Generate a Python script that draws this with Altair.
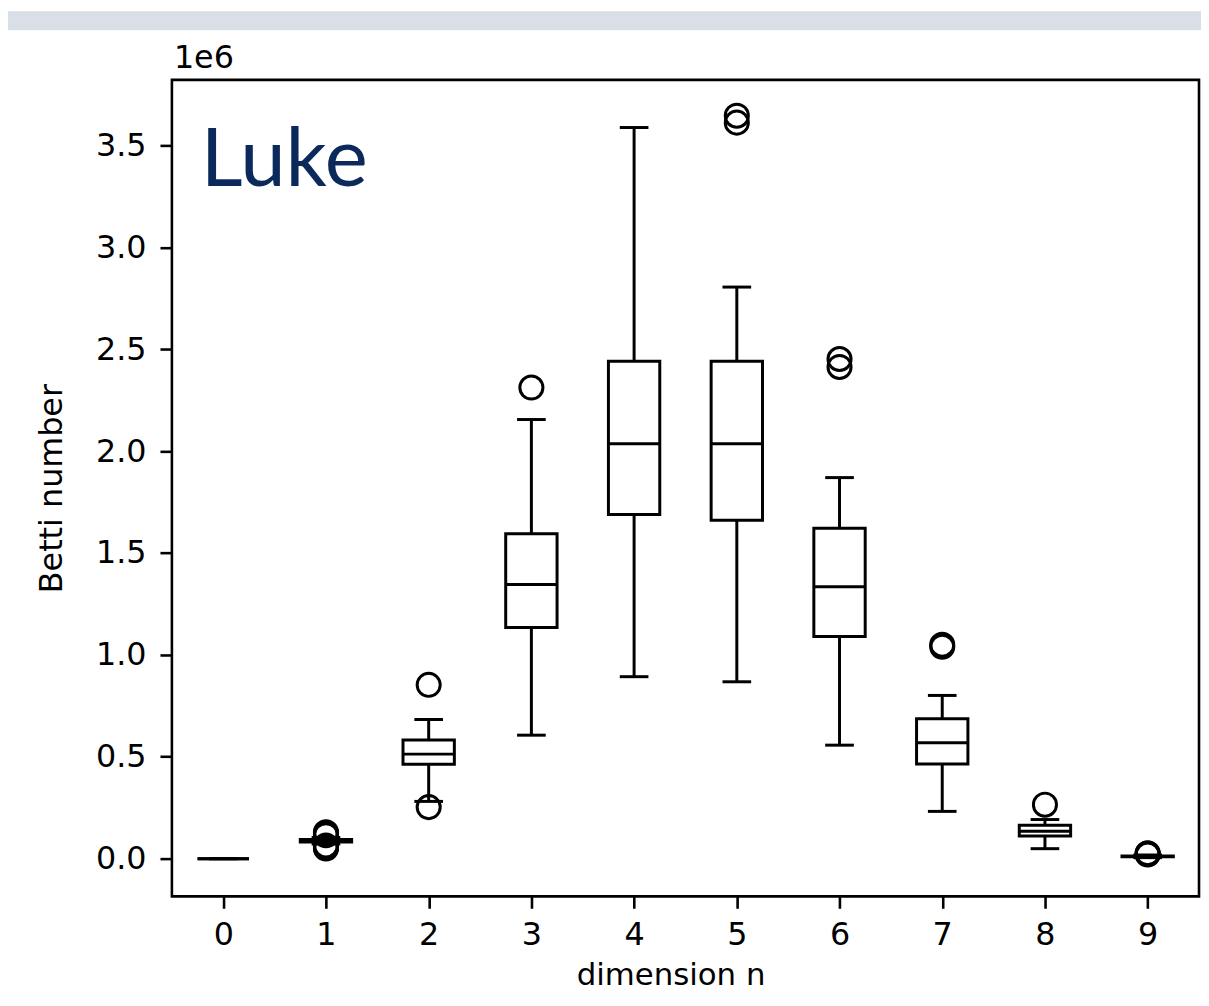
import altair as alt
import pandas as pd

# Betti number distributions per dimension (values in units of 1e6)
dims = [0, 1, 2, 3, 4, 5, 6, 7, 8, 9]
whisker_low = [0.0, 0.072, 0.281, 0.606, 0.893, 0.868, 0.557, 0.232, 0.049, 0.005]
q1 = [0.0, 0.082, 0.463, 1.134, 1.689, 1.661, 1.090, 0.465, 0.111, 0.009]
median = [0.0, 0.088, 0.513, 1.345, 2.036, 2.036, 1.334, 0.569, 0.135, 0.011]
q3 = [0.0, 0.094, 0.582, 1.594, 2.441, 2.441, 1.622, 0.687, 0.164, 0.013]
whisker_high = [0.0, 0.104, 0.683, 2.155, 3.588, 2.805, 1.870, 0.801, 0.192, 0.018]

outlier_dim = [1, 1, 1, 1, 1, 1, 1, 1, 2, 2, 3, 5, 5, 6, 6, 7, 7, 8, 9, 9, 9]
outlier_val = [0.050, 0.055, 0.060, 0.065, 0.115, 0.120, 0.125, 0.130,
               0.853, 0.253, 2.312, 3.612, 3.646, 2.413, 2.452, 1.040, 1.050,
               0.265, 0.020, 0.024, 0.027]

y_ticks = [0.0, 0.5, 1.0, 1.5, 2.0, 2.5, 3.0, 3.5]

W, H = 1034, 822
FONT = "DejaVu Sans"
LW = 3

stats = pd.DataFrame({
    "dim": dims, "wlo": whisker_low, "q1": q1, "med": median,
    "q3": q3, "whi": whisker_high,
})
outliers = pd.DataFrame({"dim": outlier_dim, "val": outlier_val})

xscale = alt.Scale(domain=[-0.5, 9.5], nice=False, zero=False)
yscale = alt.Scale(domain=[-0.185, 3.822], nice=False, zero=False)

xaxis = alt.Axis(
    values=dims, format="d", title="dimension n", grid=False, domain=False,
    tickSize=12, tickWidth=2.6, tickColor="black",
    labelFont=FONT, labelFontSize=32, labelColor="black", labelAngle=0,
    labelBaseline="alphabetic", labelPadding=36, labelFlush=False, labelOverlap=False,
    titleFont=FONT, titleFontSize=31, titleFontWeight="normal", titleColor="black",
    titleX=502, titleY=89, titleAlign="center", titleBaseline="alphabetic",
)
yaxis = alt.Axis(
    values=y_ticks, format=".1f", title="Betti number", grid=False, domain=False,
    tickSize=12, tickWidth=2.6, tickColor="black",
    labelFont=FONT, labelFontSize=32, labelColor="black", labelPadding=14,
    labelFlush=False, labelOverlap=False,
    titleFont=FONT, titleFontSize=32, titleFontWeight="normal", titleColor="black",
    titleX=-111, titleY=411, titleAlign="center", titleBaseline="alphabetic",
    titleAngle=270,
)

base = alt.Chart(stats).transform_calculate(
    xlo="datum.dim - 0.25", xhi="datum.dim + 0.25",
    clo="datum.dim - 0.125", chi="datum.dim + 0.125",
)

band = alt.Chart(pd.DataFrame({"a": [0]})).mark_rect(color="#d9dfe7").encode(
    x=alt.value(-165), x2=alt.value(W + 2), y=alt.value(-69), y2=alt.value(-50)
)

whisk_up = base.mark_rule(color="black", strokeWidth=LW).encode(
    x=alt.X("dim:Q", scale=xscale, axis=xaxis),
    y=alt.Y("q3:Q", scale=yscale, axis=yaxis),
    y2="whi:Q",
)
whisk_dn = base.mark_rule(color="black", strokeWidth=LW).encode(
    x=alt.X("dim:Q", scale=xscale, axis=xaxis),
    y=alt.Y("wlo:Q", scale=yscale, axis=yaxis),
    y2="q1:Q",
)
cap_hi = base.mark_rule(color="black", strokeWidth=LW, strokeCap="square").encode(
    x=alt.X("clo:Q", scale=xscale, axis=xaxis), x2="chi:Q",
    y=alt.Y("whi:Q", scale=yscale, axis=yaxis),
)
cap_lo = base.mark_rule(color="black", strokeWidth=LW, strokeCap="square").encode(
    x=alt.X("clo:Q", scale=xscale, axis=xaxis), x2="chi:Q",
    y=alt.Y("wlo:Q", scale=yscale, axis=yaxis),
)
box = base.mark_rect(fill="white", stroke="black", strokeWidth=LW).encode(
    x=alt.X("xlo:Q", scale=xscale, axis=xaxis), x2="xhi:Q",
    y=alt.Y("q1:Q", scale=yscale, axis=yaxis), y2="q3:Q",
)
med = base.mark_rule(color="black", strokeWidth=LW).encode(
    x=alt.X("xlo:Q", scale=xscale, axis=xaxis), x2="xhi:Q",
    y=alt.Y("med:Q", scale=yscale, axis=yaxis),
)
fliers = alt.Chart(outliers).mark_point(
    shape="circle", filled=False, stroke="black", strokeWidth=LW, size=540, opacity=1
).encode(
    x=alt.X("dim:Q", scale=xscale, axis=xaxis),
    y=alt.Y("val:Q", scale=yscale, axis=yaxis),
)

txt = pd.DataFrame({"a": [0]})
offset_text = alt.Chart(txt).mark_text(
    text="1e6", align="left", baseline="alphabetic", font=FONT, fontSize=32, color="black"
).encode(x=alt.value(2), y=alt.value(-12))
name_text = alt.Chart(txt).mark_text(
    text="Luke", align="left", baseline="alphabetic", font="Lato", fontSize=82,
    color="#0b2a5b"
).encode(x=alt.value(29), y=alt.value(107))

chart = alt.layer(
    band, whisk_up, whisk_dn, cap_hi, cap_lo, box, med, fliers, offset_text, name_text
).properties(
    width=W, height=H,
    padding={"left": 165, "top": 69, "right": 2, "bottom": 98},
    autosize=alt.AutoSizeParams(type="none"),
    background="white",
).configure_view(
    stroke="black", strokeWidth=2.6
)

chart.save("out.html", embed_options={"renderer": "svg", "actions": False})
